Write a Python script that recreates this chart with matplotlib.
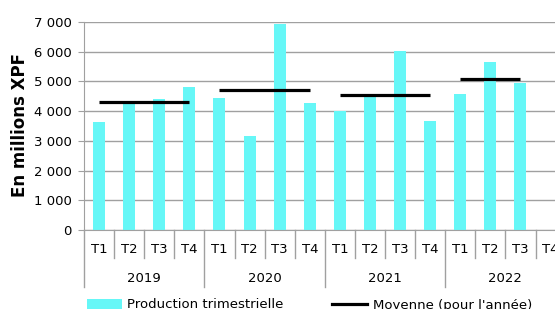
import matplotlib
matplotlib.use('Agg')
import matplotlib.pyplot as plt
from matplotlib.lines import Line2D
from matplotlib.patches import Patch
import matplotlib.transforms as mtransforms

plt.rcParams['font.family'] = ['DejaVu Sans']
plt.rcParams['font.size'] = 9.5

# données
years = ['2019', '2020', '2021', '2022']
quarters = ['T1', 'T2', 'T3', 'T4']
production = [3650, 4260, 4400, 4820,
              4440, 3160, 6930, 4290,
              4000, 4470, 6030, 3670,
              4590, 5640, 4940, None]
moyenne = [4300, 4710, 4550, 5070]
quarters_per_year = [4, 4, 4, 3]   # nb de trimestres dans la moyenne
y_ticks = [0, 1000, 2000, 3000, 4000, 5000, 6000, 7000]

bar_color = '#66F7F7'
grid_color = '#A0A0A0'

fig = plt.figure(figsize=(5.55, 3.09), dpi=100)
ax = fig.add_axes([84 / 555, 1 - 230 / 309, 16 * 30.1 / 555, 208 / 309])

xs = [i for i, v in enumerate(production) if v is not None]
vals = [v for v in production if v is not None]
ax.bar(xs, vals, width=0.4, color=bar_color, zorder=2)

# moyenne annuelle : segment du T1 au dernier trimestre de l'année
for k, m in enumerate(moyenne):
    x0 = k * 4
    x1 = k * 4 + quarters_per_year[k] - 1
    ax.plot([x0, x1], [m, m], color='black', lw=2.3, zorder=3,
            solid_capstyle='butt')

ax.set_xlim(-0.5, 15.5)
ax.set_ylim(0, 7000)
ax.set_yticks(y_ticks)
ax.set_yticklabels([f"{v:,}".replace(',', ' ') for v in y_ticks])
ax.yaxis.grid(True, color=grid_color, lw=1.0, zorder=0)
ax.set_axisbelow(True)
ax.tick_params(axis='y', length=4, color=grid_color, pad=5, labelsize=9.5)
ax.set_xticks([])
for s in ['top', 'right']:
    ax.spines[s].set_visible(False)
ax.spines['left'].set_color(grid_color)
ax.spines['bottom'].set_color(grid_color)

fig.text(20 / 555, 1 - 125 / 309, 'En millions XPF', rotation=90,
         ha='center', va='center', fontsize=12, fontweight='bold')

# axe des catégories à deux niveaux
trans = mtransforms.blended_transform_factory(ax.transData, ax.transAxes)
n = len(production)
for i in range(n + 1):
    xb = i - 0.5
    y_end = -0.274 if i % 4 == 0 else -0.135
    ax.add_line(Line2D([xb, xb], [0, y_end], transform=trans,
                       color=grid_color, lw=1.0, clip_on=False))
for i in range(n):
    ax.text(i, -0.096, quarters[i % 4], transform=trans, ha='center',
            va='center', clip_on=False)
for k, yr in enumerate(years):
    ax.text(k * 4 + 1.5, -0.231, yr, transform=trans, ha='center',
            va='center', clip_on=False)

handles = [Patch(facecolor=bar_color, edgecolor='none'),
           Line2D([0], [0], color='black', lw=2.3)]
fig.legend(handles, ['Production trimestrielle', "Moyenne (pour l'année)"],
           loc='center left', bbox_to_anchor=(87 / 555, 1 - 305 / 309),
           ncol=2, frameon=False, borderpad=0, borderaxespad=0,
           handlelength=2.65, handletextpad=0.4, columnspacing=3.7,
           fontsize=9.5)

fig.savefig('out.png', dpi=100)
